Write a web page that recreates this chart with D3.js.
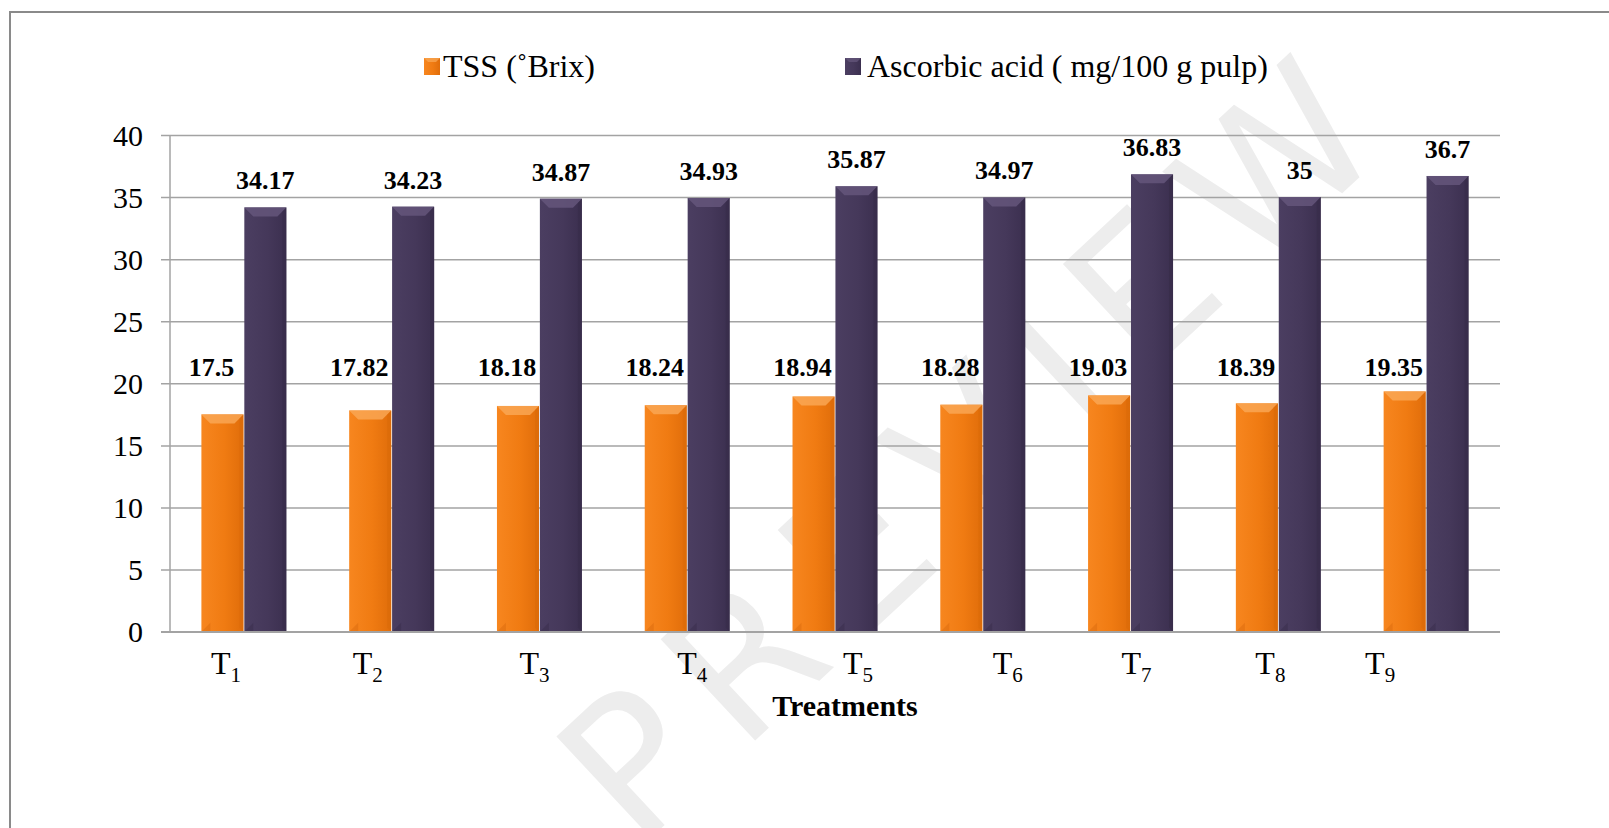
<!DOCTYPE html>
<html>
<head>
<meta charset="utf-8">
<script src="https://cdn.jsdelivr.net/npm/d3@7/dist/d3.min.js"></script>
<style>
  html, body { margin: 0; padding: 0; background: #fff; }
  svg { display: block; }
</style>
</head>
<body>
<svg id="chart" width="1609" height="828"></svg>
<script>
// ---- data ----
const categories = ["T1", "T2", "T3", "T4", "T5", "T6", "T7", "T8", "T9"];
const seriesNames = ["TSS (˚Brix)", "Ascorbic acid ( mg/100 g pulp)"];
const tssValues = [17.5, 17.82, 18.18, 18.24, 18.94, 18.28, 19.03, 18.39, 19.35];
const ascorbicValues = [34.17, 34.23, 34.87, 34.93, 35.87, 34.97, 36.83, 35, 36.7];
const yTickValues = [0, 5, 10, 15, 20, 25, 30, 35, 40];
const xAxisTitle = "Treatments";
const watermark = "PREVIEW";

// ---- layout (not data) ----
const W = 1609, H = 828;
const SERIF = "'Times New Roman', 'Liberation Serif', Tinos, 'DejaVu Serif', serif";
const plot = { left: 170, right: 1500, top: 135, bottom: 631.7 };
// manual horizontal nudges of the category label text boxes (px from band centre)
const tickLabelNudge = [-33, -39, -20, -10, 8, 10, -9, -23, -61];

const svg = d3.select("#chart");
const defs = svg.append("defs");

function hGrad(id, stops) {
  const g = defs.append("linearGradient").attr("id", id)
    .attr("x1", "0%").attr("x2", "100%").attr("y1", "0%").attr("y2", "0%");
  stops.forEach(s => g.append("stop").attr("offset", s[0]).attr("stop-color", s[1]));
}
hGrad("gOrange", [["0%", "#F7861F"], ["55%", "#F07B12"], ["100%", "#E06D0A"]]);
hGrad("gPurple", [["0%", "#4B3E61"], ["55%", "#45385A"], ["100%", "#3B2F4F"]]);

const colors = [
  { fill: "url(#gOrange)", top: "#FAA957", bottom: "#C95E05", side: "#D86808" },
  { fill: "url(#gPurple)", top: "#66587D", bottom: "#2F2540", side: "#342A46" }
];

// watermark
svg.append("text")
  .attr("transform", "translate(988,452) rotate(-43)")
  .attr("text-anchor", "middle")
  .attr("dominant-baseline", "middle")
  .style("font-family", "'DejaVu Sans', sans-serif")
  .style("font-size", "190px")
  .style("letter-spacing", "28px")
  .attr("fill", "#ededed")
  .text(watermark);

// frame
svg.append("path")
  .attr("d", `M10,${H + 5} L10,12 L${W + 5},12`)
  .attr("fill", "none").attr("stroke", "#8a8a8a").attr("stroke-width", 2);

// scales
const y = d3.scaleLinear().domain([0, 40]).range([plot.bottom, plot.top]);
const x0 = d3.scaleBand().domain(categories).range([plot.left, plot.right])
  .paddingInner(0.425).paddingOuter(0.2125);
const x1 = d3.scaleBand().domain([0, 1]).range([0, x0.bandwidth()]).paddingInner(0.02);

// gridlines + y axis
const yAxis = d3.axisLeft(y).tickValues(yTickValues).tickSize(plot.right - plot.left + 9).tickPadding(18);
const gy = svg.append("g").attr("transform", `translate(${plot.right},0)`).call(yAxis)
  .attr("font-family", null).attr("font-size", null);
gy.select(".domain").remove();
gy.selectAll(".tick line").attr("stroke", "#a3a3a3").attr("stroke-width", 1.5);
gy.selectAll(".tick text")
  .attr("fill", "#000")
  .style("font-family", SERIF)
  .style("font-size", "30px")
  .attr("dy", "0.34em")
  .attr("x", -(plot.right - plot.left) - 27);

svg.append("line")
  .attr("x1", plot.left).attr("x2", plot.left)
  .attr("y1", y(0)).attr("y2", y(40))
  .attr("stroke", "#a3a3a3").attr("stroke-width", 1.5);

// bars
const seriesValues = [tssValues, ascorbicValues];
const bev = 9;
const pts = arr => arr.map(p => p.join(",")).join(" ");
categories.forEach((c, i) => {
  seriesValues.forEach((vals, s) => {
    const xa = x0(c) + x1(s), xb = xa + x1.bandwidth();
    const yt = y(vals[i]), yb = y(0);
    const g = svg.append("g");
    g.append("rect").attr("x", xa).attr("y", yt).attr("width", xb - xa).attr("height", yb - yt)
      .attr("fill", colors[s].fill);
    g.append("polygon")
      .attr("points", pts([[xa, yt], [xb, yt], [xb - bev, yt + bev], [xa + bev, yt + bev]]))
      .attr("fill", colors[s].top).attr("opacity", 0.8);
    g.append("polygon")
      .attr("points", pts([[xb, yt], [xb, yb], [xb - 4, yb - 4], [xb - 4, yt + 4]]))
      .attr("fill", colors[s].side).attr("opacity", 0.4);
    g.append("polygon")
      .attr("points", pts([[xa, yb], [xa + bev, yb - bev], [xa + bev, yb]]))
      .attr("fill", colors[s].bottom).attr("opacity", 0.3);
  });
});

// x axis baseline
svg.append("line")
  .attr("x1", plot.left - 9).attr("x2", plot.right)
  .attr("y1", y(0)).attr("y2", y(0))
  .attr("stroke", "#a3a3a3").attr("stroke-width", 1.5);

// data labels
const labelStyle = sel => sel.attr("text-anchor", "middle")
  .style("font-family", SERIF)
  .style("font-weight", "bold").style("font-size", "26px").attr("fill", "#000");

svg.append("g").selectAll("text").data(tssValues).join("text")
  .call(labelStyle)
  .attr("x", (d, i) => x0(categories[i]) + x1(0) + x1.bandwidth() / 2 - 11)
  .attr("y", y(20) - 7)
  .text(d => d);

svg.append("g").selectAll("text").data(ascorbicValues).join("text")
  .call(labelStyle)
  .attr("x", (d, i) => x0(categories[i]) + x1(1) + x1.bandwidth() / 2)
  .attr("y", d => y(d) - 18)
  .text(d => d);

// category labels with subscripts
const tl = svg.append("g").selectAll("text").data(categories).join("text")
  .attr("x", (d, i) => x0(d) + x0.bandwidth() / 2 + tickLabelNudge[i])
  .attr("y", 674)
  .attr("text-anchor", "start")
  .style("font-family", SERIF)
  .style("font-size", "32px").attr("fill", "#000");
tl.append("tspan").text(d => d.charAt(0));
tl.append("tspan").attr("dy", 8).style("font-size", "21px").text(d => d.slice(1));

// axis title
svg.append("text")
  .attr("x", 845).attr("y", 716)
  .attr("text-anchor", "middle")
  .style("font-family", SERIF)
  .style("font-size", "30px").style("font-weight", "bold").attr("fill", "#000")
  .text(xAxisTitle);

// legend
const legendPos = [{ x: 424, tx: 443 }, { x: 845, tx: 867 }];
seriesNames.forEach((name, s) => {
  const g = svg.append("g");
  g.append("rect").attr("x", legendPos[s].x).attr("y", 58).attr("width", 16).attr("height", 17)
    .attr("fill", colors[s].fill);
  g.append("polygon")
    .attr("points", pts([[legendPos[s].x, 58], [legendPos[s].x + 16, 58], [legendPos[s].x + 12, 62], [legendPos[s].x + 4, 62]]))
    .attr("fill", colors[s].top).attr("opacity", 0.7);
  g.append("text").attr("x", legendPos[s].tx).attr("y", 77)
    .style("font-family", SERIF)
    .style("font-size", "32px").attr("fill", "#000").text(name);
});
</script>
</body>
</html>
